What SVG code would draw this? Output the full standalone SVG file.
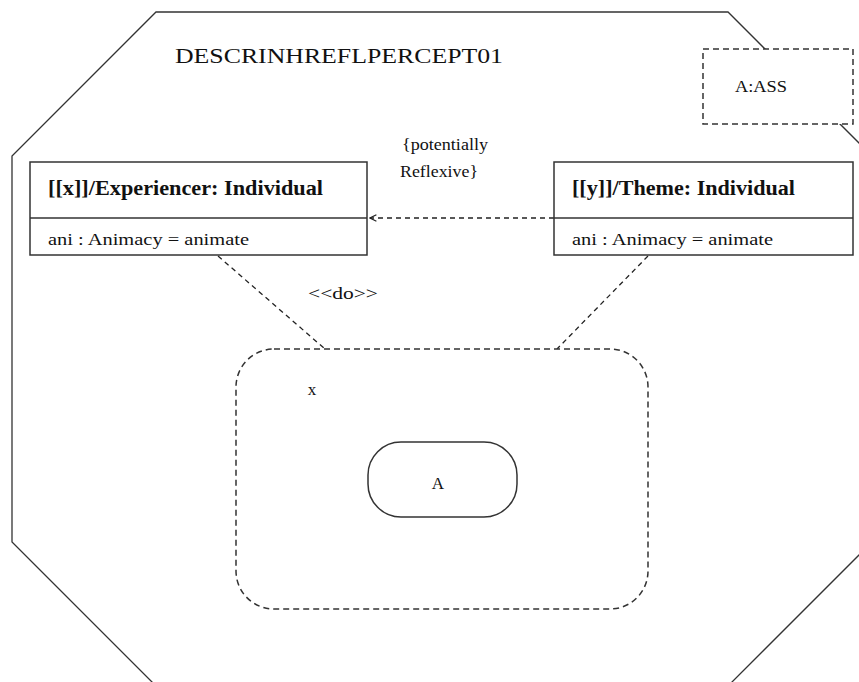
<svg xmlns="http://www.w3.org/2000/svg" width="859" height="682" viewBox="0 0 859 682">
  <style>
    .frame { fill: none; stroke: #333; stroke-width: 1.3; }
    .box { fill: #fff; stroke: #333; stroke-width: 1.5; }
    .dbox { fill: #fff; stroke: #333; stroke-width: 1.5; stroke-dasharray: 6 4; }
    .conn { fill: none; stroke: #222; stroke-width: 1.3; stroke-dasharray: 5 4; }
    .t { font-family: "Liberation Serif", "DejaVu Serif", "Times New Roman", serif; fill: #111; }
    .b { font-weight: bold; }
  </style>
  <defs>
    <marker id="open" viewBox="0 0 10 10" refX="9" refY="5" markerWidth="8" markerHeight="8" orient="auto" markerUnits="userSpaceOnUse">
      <path d="M1,1 L9,5 L1,9" fill="none" stroke="#222" stroke-width="1.5"/>
    </marker>
  </defs>

  <!-- package outline (octagon) -->
  <g id="package">
    <polygon class="frame" points="156,12 728,12 872,156 872,542 712,702 172,702 12,542 12,156"/>
    <text class="t" x="175" y="63" font-size="22" textLength="328" lengthAdjust="spacingAndGlyphs">DESCRINHREFLPERCEPT01</text>
  </g>

  <!-- connectors -->
  <g id="connectors">
    <line class="conn" x1="554" y1="218" x2="370" y2="218" marker-end="url(#open)"/>
    <line class="conn" x1="218" y1="256" x2="325" y2="349"/>
    <line class="conn" x1="648" y1="256" x2="557" y2="349"/>
    <text class="t" x="402" y="150" font-size="16" textLength="86" lengthAdjust="spacingAndGlyphs">{potentially</text>
    <text class="t" x="400" y="177" font-size="16" textLength="78" lengthAdjust="spacingAndGlyphs">Reflexive}</text>
    <text class="t" x="308" y="299" font-size="16" textLength="70" lengthAdjust="spacingAndGlyphs">&lt;&lt;do&gt;&gt;</text>
  </g>

  <!-- association tag -->
  <g id="ass">
    <rect class="dbox" x="703" y="49" width="150" height="75"/>
    <text class="t" x="735" y="92" font-size="17" textLength="52" lengthAdjust="spacingAndGlyphs">A:ASS</text>
  </g>

  <!-- experiencer class -->
  <g id="experiencer">
    <rect class="box" x="30" y="162" width="337" height="93"/>
    <line class="box" x1="30" y1="218" x2="367" y2="218"/>
    <text class="t b" x="48" y="195" font-size="20" textLength="275" lengthAdjust="spacingAndGlyphs">[[x]]/Experiencer: Individual</text>
    <text class="t" x="48" y="245" font-size="16" textLength="201" lengthAdjust="spacingAndGlyphs">ani : Animacy =  animate</text>
  </g>

  <!-- theme class -->
  <g id="theme">
    <rect class="box" x="554" y="162" width="299" height="93"/>
    <line class="box" x1="554" y1="218" x2="853" y2="218"/>
    <text class="t b" x="572" y="195" font-size="20" textLength="223" lengthAdjust="spacingAndGlyphs">[[y]]/Theme: Individual</text>
    <text class="t" x="572" y="245" font-size="16" textLength="201" lengthAdjust="spacingAndGlyphs">ani : Animacy =  animate</text>
  </g>

  <!-- situation x -->
  <g id="situation">
    <rect class="dbox" x="236" y="349" width="412" height="260" rx="38" ry="38"/>
    <text class="t" x="312" y="395" font-size="17" text-anchor="middle">x</text>
  </g>

  <!-- action A -->
  <g id="action">
    <rect class="box" x="368" y="442" width="149" height="75" rx="33" ry="33"/>
    <text class="t" x="438" y="489" font-size="17" text-anchor="middle">A</text>
  </g>
</svg>
